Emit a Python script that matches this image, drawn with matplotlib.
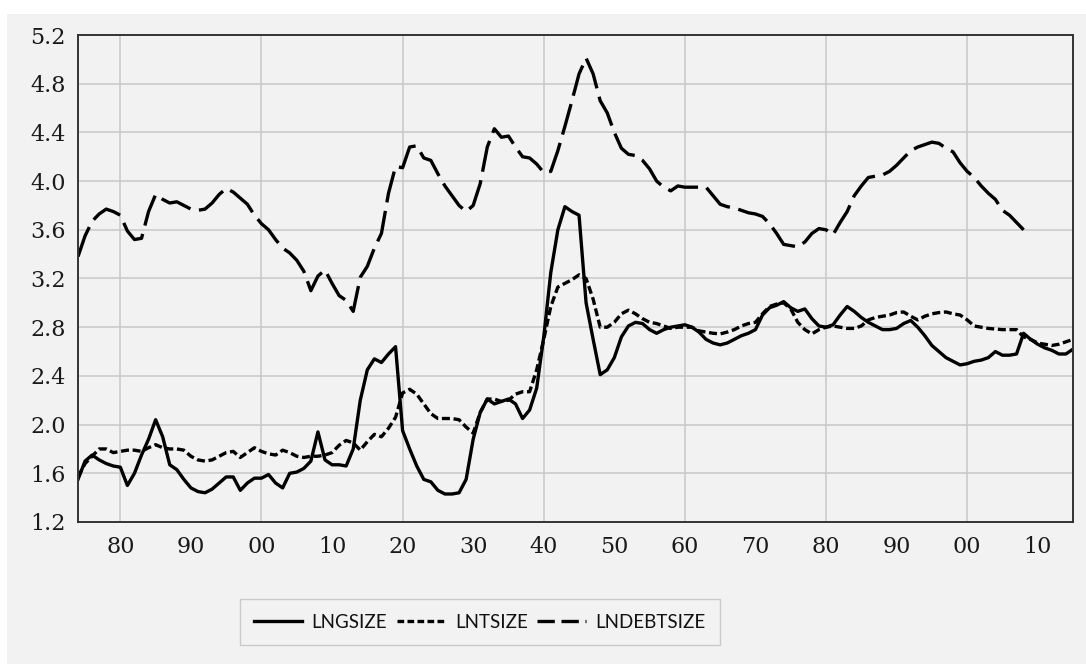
import matplotlib.pyplot as plt
from matplotlib.patches import Rectangle
from matplotlib.lines import Line2D
import numpy as np

years = np.arange(1874, 2016)

lngsize = [
    1.55, 1.70, 1.75, 1.71, 1.68, 1.66,                          # 1874-1879
    1.65, 1.50, 1.60, 1.75, 1.88, 2.04, 1.90, 1.67, 1.63, 1.55,  # 1880s
    1.48, 1.45, 1.44, 1.47, 1.52, 1.57, 1.57, 1.46, 1.52, 1.56,  # 1890s
    1.56, 1.59, 1.52, 1.48, 1.60, 1.61, 1.64, 1.70, 1.94, 1.71,  # 1900s
    1.67, 1.67, 1.66, 1.80, 2.20, 2.45, 2.54, 2.51, 2.58, 2.64,  # 1910s
    1.95, 1.80, 1.66, 1.55, 1.53, 1.46, 1.43, 1.43, 1.44, 1.55,  # 1920s
    1.88, 2.10, 2.21, 2.17, 2.19, 2.21, 2.17, 2.05, 2.12, 2.30,  # 1930s
    2.72, 3.25, 3.60, 3.79, 3.75, 3.72, 3.00, 2.70, 2.41, 2.45,  # 1940s
    2.55, 2.72, 2.81, 2.84, 2.83, 2.78, 2.75, 2.78, 2.80, 2.81,  # 1950s
    2.82, 2.80, 2.76, 2.70, 2.67, 2.655, 2.67, 2.70, 2.73, 2.75, # 1960s
    2.78, 2.90, 2.96, 2.98, 3.01, 2.96, 2.93, 2.95, 2.87, 2.81,  # 1970s
    2.80, 2.82, 2.90, 2.97, 2.93, 2.88, 2.84, 2.81, 2.78, 2.78,  # 1980s
    2.79, 2.83, 2.855, 2.80, 2.73, 2.65, 2.60, 2.55, 2.52, 2.49, # 1990s
    2.50, 2.52, 2.53, 2.55, 2.60, 2.57, 2.57, 2.58, 2.75, 2.70,  # 2000s
    2.66, 2.63, 2.61, 2.58, 2.58, 2.62,                          # 2010-2015
]

lntsize = [
    1.57, 1.68, 1.74, 1.80, 1.80, 1.77,
    1.78, 1.79, 1.79, 1.78, 1.81, 1.835, 1.81, 1.80, 1.80, 1.79,
    1.74, 1.71, 1.70, 1.71, 1.74, 1.77, 1.78, 1.73, 1.77, 1.81,
    1.78, 1.76, 1.75, 1.79, 1.77, 1.74, 1.73, 1.74, 1.74, 1.75,
    1.77, 1.83, 1.87, 1.85, 1.79, 1.86, 1.92, 1.90, 1.97, 2.06,
    2.26, 2.29, 2.25, 2.17, 2.09, 2.05, 2.05, 2.05, 2.04, 1.98,
    1.93, 2.10, 2.21, 2.21, 2.19, 2.20, 2.25, 2.27, 2.27, 2.45,
    2.70, 2.97, 3.13, 3.16, 3.19, 3.23, 3.20, 3.03, 2.80, 2.80,
    2.84, 2.91, 2.94, 2.91, 2.87, 2.84, 2.83, 2.81, 2.79, 2.80,
    2.80, 2.80, 2.77, 2.76, 2.75, 2.745, 2.76, 2.78, 2.81, 2.83,
    2.84, 2.91, 2.97, 2.99, 3.00, 2.95, 2.84, 2.78, 2.745, 2.78,
    2.80, 2.81, 2.80, 2.79, 2.79, 2.81, 2.86, 2.88, 2.89, 2.90,
    2.92, 2.925, 2.89, 2.86, 2.89, 2.91, 2.92, 2.925, 2.91, 2.90,
    2.86, 2.81, 2.80, 2.79, 2.785, 2.78, 2.78, 2.78, 2.72, 2.70,
    2.67, 2.66, 2.65, 2.66, 2.68, 2.70,
]

# debt series stops in 2008
lndebtsize = [
    3.38, 3.55, 3.67, 3.73, 3.77, 3.75,
    3.72, 3.59, 3.52, 3.53, 3.75, 3.89, 3.85, 3.82, 3.83, 3.80,
    3.77, 3.76, 3.77, 3.82, 3.89, 3.94, 3.91, 3.86, 3.81, 3.72,
    3.65, 3.60, 3.52, 3.45, 3.41, 3.35, 3.26, 3.10, 3.22, 3.27,
    3.16, 3.06, 3.02, 2.93, 3.21, 3.30, 3.45, 3.57, 3.90, 4.12,
    4.11, 4.28, 4.29, 4.19, 4.17, 4.06, 3.96, 3.88, 3.80, 3.75,
    3.80, 3.98, 4.28, 4.43, 4.36, 4.37, 4.28, 4.20, 4.19, 4.14,
    4.07, 4.08, 4.25, 4.45, 4.66, 4.88, 5.01, 4.88, 4.66, 4.56,
    4.40, 4.27, 4.22, 4.21, 4.17, 4.10, 4.00, 3.95, 3.92, 3.96,
    3.95, 3.95, 3.95, 3.95, 3.88, 3.81, 3.79, 3.78, 3.76, 3.74,
    3.73, 3.71, 3.65, 3.57, 3.48, 3.47, 3.46, 3.50, 3.57, 3.61,
    3.60, 3.56, 3.66, 3.75, 3.88, 3.96, 4.03, 4.04, 4.05, 4.08,
    4.13, 4.19, 4.25, 4.28, 4.30, 4.32, 4.31, 4.27, 4.24, 4.15,
    4.08, 4.03, 3.96, 3.90, 3.85, 3.76, 3.72, 3.66, 3.60,
]
lndebtsize = lndebtsize + [np.nan] * (len(years) - len(lndebtsize))

series_names = ['LNGSIZE', 'LNTSIZE', 'LNDEBTSIZE']

yticks = np.arange(1.2, 5.21, 0.4)
xticks = np.arange(1880, 2011, 10)
xticklabels = ['%02d' % (y % 100) for y in xticks]

bg = '#f2f2f2'
fig = plt.figure(figsize=(10.86, 6.64), dpi=100, facecolor='white')
fig.patches.append(Rectangle((7 / 1086, -0.05), 1, 1.05 - 14 / 664, transform=fig.transFigure,
                             facecolor=bg, edgecolor='none', zorder=-10))

ax = fig.add_axes([78 / 1086, 142 / 664, 995 / 1086, 487 / 664])
ax.set_facecolor(bg)

lw = 2.4
styles = ['-', (0, (2.4, 1.1)), (0, (9.5, 2.6))]
for vals, name, ls in zip([lngsize, lntsize, lndebtsize], series_names, styles):
    ax.plot(years, vals, color='black', lw=lw, linestyle=ls, label=name)

ax.set_xlim(1874, 2015)
ax.set_ylim(1.2, 5.2)
ax.set_yticks(yticks)
ax.set_yticklabels(['%.1f' % v for v in yticks])
ax.set_xticks(xticks)
ax.set_xticklabels(xticklabels)

for v in yticks[1:-1]:
    ax.axhline(v, color='#c8c8c8', lw=1.1, zorder=0)
for x in np.arange(1880, 2011, 20):
    ax.axvline(x, color='#c8c8c8', lw=1.1, zorder=0)

ax.tick_params(axis='both', which='both', length=0, labelsize=16, colors='#1a1a1a')
ax.tick_params(axis='y', pad=9)
ax.tick_params(axis='x', pad=10)
for lab in ax.get_xticklabels() + ax.get_yticklabels():
    lab.set_family('DejaVu Serif')

for side in ['left', 'bottom', 'top', 'right']:
    ax.spines[side].set_color('#333333')
    ax.spines[side].set_linewidth(1.4)

# legend keys use shorter dashes so each key shows whole dashes
legend_styles = ['-', (0, (2.0, 1.0)), (0, (5.2, 2.0))]
handles = [Line2D([], [], color='black', lw=lw, linestyle=ls) for ls in legend_styles]
leg = fig.legend(handles, series_names, loc='center',
                 bbox_to_anchor=(479.5 / 1086, 42 / 664), ncol=3,
                 frameon=True, fancybox=False, handlelength=2.6, handletextpad=0.5,
                 columnspacing=0.5, borderpad=0.75,
                 prop={'family': ['Lato', 'DejaVu Sans'], 'size': 13.5})
leg.get_frame().set_edgecolor('#c0c0c0')
leg.get_frame().set_facecolor(bg)
leg.get_frame().set_linewidth(1.0)
for t in leg.get_texts():
    t.set_color('#111111')

fig.savefig('out.png', dpi=100, facecolor=fig.get_facecolor())
